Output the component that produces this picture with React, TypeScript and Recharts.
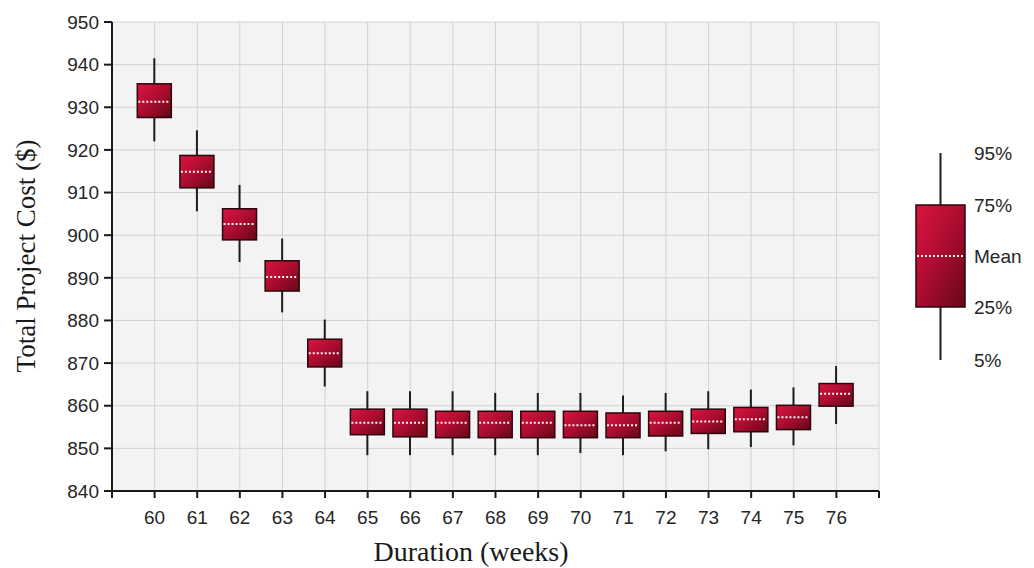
import { ComposedChart, Bar, XAxis, YAxis, CartesianGrid, Legend } from 'recharts';

// duration in weeks, and the cost distribution for each one ($)
const weeks = [60, 61, 62, 63, 64, 65, 66, 67, 68, 69, 70, 71, 72, 73, 74, 75, 76];
const p5 = [922.0, 905.6, 893.7, 881.9, 864.5, 848.4, 848.4, 848.4, 848.4, 848.4, 848.9, 848.4, 849.3, 849.8, 850.3, 850.7, 855.7];
const q1 = [927.6, 911.1, 898.9, 886.9, 869.1, 853.2, 852.7, 852.5, 852.5, 852.5, 852.5, 852.5, 852.9, 853.5, 853.9, 854.4, 859.9];
const means = [931.3, 914.9, 902.6, 890.2, 872.3, 856.0, 856.0, 856.0, 856.0, 856.0, 855.4, 855.4, 856.0, 856.3, 856.8, 857.3, 862.8];
const q3 = [935.5, 918.7, 906.2, 894.0, 875.6, 859.2, 859.2, 858.7, 858.7, 858.7, 858.7, 858.3, 858.7, 859.2, 859.6, 860.1, 865.2];
const p95 = [941.5, 924.6, 911.8, 899.2, 880.2, 863.4, 863.4, 863.4, 863.0, 863.0, 863.0, 862.4, 863.0, 863.4, 863.8, 864.3, 869.3];

const xTicks = [59, 60, 61, 62, 63, 64, 65, 66, 67, 68, 69, 70, 71, 72, 73, 74, 75, 76, 77];
const yTicks = [840, 850, 860, 870, 880, 890, 900, 910, 920, 930, 940, 950];
const legendLabels = ['95%', '75%', 'Mean', '25%', '5%'];

const chartData = weeks.map((week, i) => ({
  week,
  p5: p5[i],
  q1: q1[i],
  mean: means[i],
  q3: q3[i],
  p95: p95[i],
  range: [p5[i], p95[i]],
}));

const tickFont = { fontFamily: 'Liberation Sans, Arial, sans-serif', fontSize: 19, fill: '#262626' };
const titleFont = 'Liberation Serif, Times New Roman, serif';

const BoxShape = (props: any) => {
  const { x, y, width, height, payload } = props;
  if (!payload) return null;
  const top = Math.min(y, y + height);
  const h = Math.abs(height);
  const span = payload.p95 - payload.p5;
  const k = span ? h / span : 0;
  const toY = (v: number) => top + (payload.p95 - v) * k;
  const cx = x + width / 2;
  const yQ3 = toY(payload.q3);
  const yQ1 = toY(payload.q1);
  const yMean = toY(payload.mean);
  return (
    <g>
      <line x1={cx} x2={cx} y1={top} y2={top + h} stroke="#1c1c1c" strokeWidth={2} />
      <rect x={x} y={yQ3} width={width} height={yQ1 - yQ3} fill="url(#boxFill)" stroke="#2a070d" strokeWidth={1.5} />
      <line x1={x + 1} x2={x + width - 1} y1={yMean} y2={yMean} stroke="#fbeff1" strokeWidth={2} strokeDasharray="2 2" />
    </g>
  );
};

const LegendBox = () => {
  // legend glyph: whisker ends, box edges and mean, top to bottom
  const levels = [13, 65, 116, 167, 220];
  return (
    <svg width={134} height={240} style={{ display: 'block' }}>
      <line x1={40.5} x2={40.5} y1={levels[0]} y2={levels[4]} stroke="#1c1c1c" strokeWidth={2} />
      <rect x={16} y={levels[1]} width={49} height={levels[3] - levels[1]} fill="url(#boxFill)" stroke="#2a070d" strokeWidth={1.5} />
      <line x1={17} x2={64} y1={levels[2]} y2={levels[2]} stroke="#fbeff1" strokeWidth={2} strokeDasharray="2 2" />
      {legendLabels.map((label, i) => (
        <text key={label} x={74} y={levels[i]} dy="0.36em" {...tickFont} fontSize={19}>
          {label}
        </text>
      ))}
    </svg>
  );
};

export default function App() {
  return (
    <div style={{ position: 'absolute', left: 0, top: 0, width: 1034, height: 568, background: '#ffffff' }}>
      <ComposedChart
        width={1034}
        height={568}
        data={chartData}
        margin={{ top: 22, right: 155, bottom: 37, left: 42 }}
      >
        <defs>
          <linearGradient id="boxFill" x1="0" y1="0" x2="1" y2="1">
            <stop offset="0%" stopColor="#dc1442" />
            <stop offset="45%" stopColor="#b00d31" />
            <stop offset="100%" stopColor="#650717" />
          </linearGradient>
        </defs>
        <CartesianGrid fill="#f3f3f3" stroke="#d2d2d2" strokeWidth={1} />
        <XAxis
          dataKey="week"
          type="number"
          domain={[59, 77]}
          ticks={xTicks}
          interval={0}
          height={40}
          tickSize={7}
          tickMargin={13}
          tick={tickFont}
          tickFormatter={(v) => (v === 59 || v === 77 ? '' : String(v))}
          axisLine={{ stroke: '#1a1a1a', strokeWidth: 2 }}
          tickLine={{ stroke: '#1a1a1a', strokeWidth: 2 }}
          label={() => (
            <text x={471} y={561} textAnchor="middle" fontFamily={titleFont} fontSize={28} fill="#1a1a1a">
              Duration (weeks)
            </text>
          )}
        />
        <YAxis
          type="number"
          domain={[840, 950]}
          ticks={yTicks}
          interval={0}
          width={70}
          tickSize={8}
          tickMargin={5}
          tick={tickFont}
          axisLine={{ stroke: '#1a1a1a', strokeWidth: 2 }}
          tickLine={{ stroke: '#1a1a1a', strokeWidth: 2 }}
          label={() => (
            <text
              x={35}
              y={256}
              textAnchor="middle"
              transform="rotate(-90, 35, 256)"
              fontFamily={titleFont}
              fontSize={27}
              fill="#1a1a1a"
            >
              Total Project Cost ($)
            </text>
          )}
        />
        <Legend
          layout="horizontal"
          verticalAlign="middle"
          content={LegendBox}
          wrapperStyle={{ position: 'absolute', left: 900, top: 140, width: 134, height: 240 }}
        />
        <Bar dataKey="range" barSize={34} shape={BoxShape} isAnimationActive={false} />
      </ComposedChart>
    </div>
  );
}
